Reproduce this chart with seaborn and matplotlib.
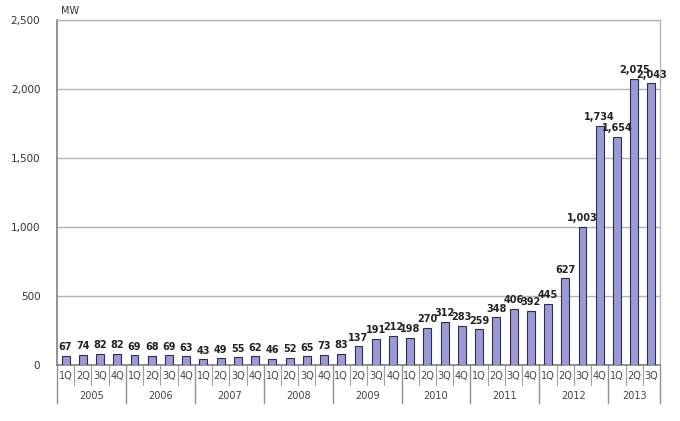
import matplotlib
matplotlib.use("Agg")
import matplotlib.pyplot as plt
import seaborn as sns
import pandas as pd
from matplotlib.ticker import FuncFormatter

years = ["2005", "2006", "2007", "2008", "2009", "2010", "2011", "2012", "2013"]
quarters = ["1Q", "2Q", "3Q", "4Q"]
values = [67, 74, 82, 82, 69, 68, 69, 63, 43, 49, 55, 62, 46, 52, 65, 73,
          83, 137, 191, 212, 198, 270, 312, 283, 259, 348, 406, 392,
          445, 627, 1003, 1734, 1654, 2075, 2043]
yticks = [0, 500, 1000, 1500, 2000, 2500]

cats, qlabels, ylabels = [], [], []
for y in years:
    for q in quarters:
        if len(cats) < len(values):
            cats.append(f"{y} {q}")
            qlabels.append(q)
            ylabels.append(y)
df = pd.DataFrame({"cat": cats, "mw": values})

sns.set_theme(style="white")
plt.rcParams["font.family"] = ["DejaVu Sans"]

fig = plt.figure(figsize=(6.8, 4.21), dpi=100)
ax = fig.add_axes([57/680, 1-365/421, 603/680, 345/421])
sns.barplot(data=df, x="cat", y="mw", ax=ax, color="#9a9ad6", saturation=1,
            width=0.46, edgecolor="#2e2e55", linewidth=0.8, zorder=3)

ax.set_ylim(0, 2500)
ax.set_xlim(-0.5, len(values) - 0.5)
ax.set_yticks(yticks)
ax.yaxis.set_major_formatter(FuncFormatter(lambda v, p: f"{int(v):,}"))
ax.tick_params(axis="y", length=0, labelsize=7.5, labelcolor="#333333", pad=12)
ax.grid(axis="y", color="#b4b4b4", linewidth=1, zorder=0)
ax.set_xlabel("")
ax.set_ylabel("")
ax.set_xticks(range(len(values)))
ax.set_xticklabels(qlabels, fontsize=7, color="#444444")
ax.tick_params(axis="x", length=0, pad=4)

for s in ["top", "right"]:
    ax.spines[s].set_color("#b4b4b4")
    ax.spines[s].set_linewidth(1)
for s in ["left", "bottom"]:
    ax.spines[s].set_color("#808080")
    ax.spines[s].set_linewidth(1.2)

# value labels
for bar, v in zip(ax.patches, values):
    x = bar.get_x() + bar.get_width() / 2
    ax.annotate(f"{v:,}", (x, v), xytext=(0, 2.5),
                textcoords="offset points", ha="center", va="bottom",
                fontsize=7, fontweight="bold", color="#222222", zorder=5)

# category separators
trans = ax.get_xaxis_transform()
n = len(values)
for k in range(n + 1):
    xb = k - 0.5
    if k % 4 == 0 or k == n:
        ax.plot([xb, xb], [0, -38/345], transform=trans, color="#909090",
                lw=1, clip_on=False)
    else:
        ax.plot([xb, xb], [0, -20/345], transform=trans, color="#a0a0a0",
                lw=0.8, clip_on=False)

for j, y in enumerate(years):
    idx = [i for i, yl in enumerate(ylabels) if yl == y]
    xc = (idx[0] + idx[-1]) / 2
    ax.text(xc, -31/345, y, transform=trans, ha="center", va="center",
            fontsize=7, color="#444444")

fig.text(61/680, 1-11/421, "MW", fontsize=7, color="#333333", ha="left", va="center")

fig.savefig("out.png", dpi=100, facecolor="white")
